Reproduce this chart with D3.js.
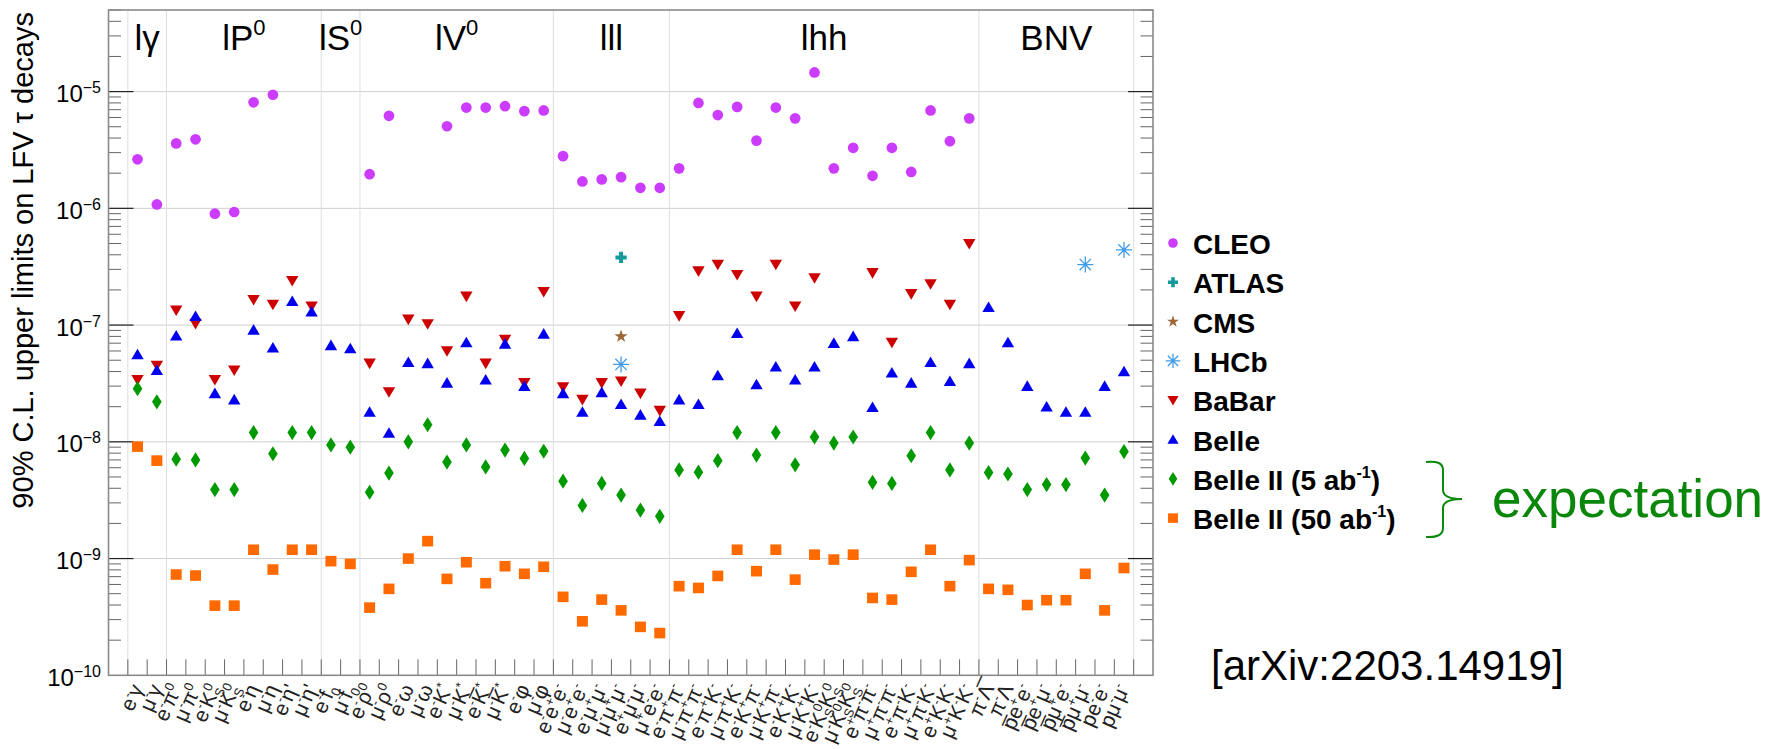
<!DOCTYPE html>
<meta charset="utf-8">
<style>
  body {
    margin: 0;
    background: #fff;
    font-family: "Liberation Sans", Arial, Helvetica, sans-serif;
  }
  #chart {
    width: 1768px;
    height: 749px;
  }
  line.hgrid {
    stroke: #cfcfcf;
    stroke-width: 1;
  }
  line.vgrid {
    stroke: #dedede;
    stroke-width: 1;
  }
  line.tick {
    stroke: #666;
    stroke-width: 1;
  }
  line.major {
    stroke: #222;
    stroke-width: 1.2;
  }
  rect.frame {
    fill: none;
    stroke: #8a8a8a;
    stroke-width: 1.6;
  }
  text.legend {
    font-weight: bold;
    font-size: 28px;
  }
</style>

<body>

  <div id="chart"></div>

  <script src="https://d3js.org/d3.v7.min.js"></script>

  <script>

    // ^x superscript, _x subscript, ~x overline
    var categories = [
      "e^-γ", "μ^-γ",
      "e^-π^0", "μ^-π^0", "e^-K_S^0", "μ^-K_S^0", "e^-η", "μ^-η", "e^-η'", "μ^-η'",
      "e^-f_0", "μ^-f_0",
      "e^-ρ^0", "μ^-ρ^0", "e^-ω", "μ^-ω", "e^-K^*", "μ^-K^*", "e^-~K^*", "μ^-~K^*", "e^-φ", "μ^-φ",
      "e^-e^+e^-", "μ^-e^+e^-", "e^-μ^+μ^-", "μ^-μ^+μ^-", "e^+μ^-μ^-", "μ^+e^-e^-",
      "e^-π^+π^-", "μ^-π^+π^-", "e^-π^+K^-", "μ^-π^+K^-", "e^-K^+π^-", "μ^-K^+π^-", "e^-K^+K^-", "μ^-K^+K^-",
      "e^-K_S^0K_S^0", "μ^-K_S^0K_S^0", "e^+π^-π^-", "μ^+π^-π^-", "e^+π^-K^-", "μ^+π^-K^-", "e^+K^-K^-", "μ^+K^-K^-",
      "π^-~Λ", "π^-Λ", "~pe^+e^-", "~pe^+μ^-", "~pμ^+e^-", "~pμ^+μ^-", "pe^-e^-", "pμ^-μ^-"
    ];

    var groupNames = ["lγ", "lP^0", "lS^0", "lV^0", "lll", "lhh", "BNV"];
    var groupSizes = [2, 8, 2, 10, 6, 16, 8];

    var cleo = [
      2.63e-6, 1.08e-6,
      3.6e-6, 3.9e-6, 9.0e-7, 9.3e-7, 8.1e-6, 9.4e-6, null, null,
      null, null,
      1.96e-6, 6.2e-6, null, null, 5.05e-6, 7.3e-6, 7.3e-6, 7.5e-6, 6.8e-6, 6.9e-6,
      2.8e-6, 1.7e-6, 1.77e-6, 1.85e-6, 1.5e-6, 1.5e-6,
      2.2e-6, 8.0e-6, 6.3e-6, 7.4e-6, 3.8e-6, 7.3e-6, 5.9e-6, 1.46e-5,
      2.2e-6, 3.3e-6, 1.9e-6, 3.3e-6, 2.05e-6, 6.9e-6, 3.76e-6, 5.9e-6,
      null, null, null, null, null, null, null, null
    ];

    var babar = [
      3.4e-8, 4.5e-8,
      1.34e-7, 1.03e-7, 3.4e-8, 4.1e-8, 1.65e-7, 1.5e-7, 2.4e-7, 1.45e-7,
      null, null,
      4.7e-8, 2.67e-8, 1.12e-7, 1.02e-7, 6.0e-8, 1.76e-7, 4.7e-8, 7.5e-8, 3.2e-8, 1.93e-7,
      2.94e-8, 2.3e-8, 3.2e-8, 3.3e-8, 2.6e-8, 1.85e-8,
      1.2e-7, 2.9e-7, 3.3e-7, 2.7e-7, 1.76e-7, 3.3e-7, 1.45e-7, 2.53e-7,
      null, null, 2.8e-7, 7.1e-8, 1.85e-7, 2.25e-7, 1.5e-7, 4.98e-7,
      null, null, null, null, null, null, null, null
    ];

    var belle = [
      5.6e-8, 4.1e-8,
      8.1e-8, 1.19e-7, 2.6e-8, 2.3e-8, 9.1e-8, 6.4e-8, 1.6e-7, 1.3e-7,
      6.7e-8, 6.3e-8,
      1.8e-8, 1.19e-8, 4.8e-8, 4.7e-8, 3.2e-8, 7.1e-8, 3.4e-8, 6.9e-8, 3.0e-8, 8.4e-8,
      2.6e-8, 1.8e-8, 2.65e-8, 2.1e-8, 1.7e-8, 1.5e-8,
      2.3e-8, 2.1e-8, 3.7e-8, 8.5e-8, 3.1e-8, 4.4e-8, 3.4e-8, 4.4e-8,
      7.0e-8, 8.0e-8, 1.98e-8, 3.9e-8, 3.2e-8, 4.8e-8, 3.3e-8, 4.7e-8,
      1.42e-7, 7.1e-8, 3.0e-8, 2.0e-8, 1.8e-8, 1.8e-8, 3.0e-8, 4.0e-8
    ];

    var belle2_5 = [
      2.85e-8, 2.2e-8,
      7.1e-9, 7.0e-9, 3.9e-9, 3.9e-9, 1.2e-8, 7.9e-9, 1.2e-8, 1.2e-8,
      9.4e-9, 9.0e-9,
      3.7e-9, 5.4e-9, 1.0e-8, 1.4e-8, 6.7e-9, 9.4e-9, 6.1e-9, 8.5e-9, 7.2e-9, 8.3e-9,
      4.6e-9, 2.85e-9, 4.4e-9, 3.5e-9, 2.6e-9, 2.3e-9,
      5.75e-9, 5.5e-9, 6.9e-9, 1.2e-8, 7.7e-9, 1.2e-8, 6.35e-9, 1.1e-8,
      9.75e-9, 1.1e-8, 4.5e-9, 4.4e-9, 7.6e-9, 1.2e-8, 5.75e-9, 9.75e-9,
      5.45e-9, 5.3e-9, 3.9e-9, 4.3e-9, 4.3e-9, 7.25e-9, 3.5e-9, 8.25e-9
    ];

    var belle2_50 = [
      9.1e-9, 6.9e-9,
      7.3e-10, 7.15e-10, 3.95e-10, 3.95e-10, 1.19e-9, 8.05e-10, 1.19e-9, 1.19e-9,
      9.5e-10, 9.0e-10,
      3.8e-10, 5.5e-10, 1.0e-9, 1.41e-9, 6.7e-10, 9.3e-10, 6.15e-10, 8.6e-10, 7.4e-10, 8.5e-10,
      4.7e-10, 2.9e-10, 4.45e-10, 3.6e-10, 2.6e-10, 2.3e-10,
      5.8e-10, 5.6e-10, 7.1e-10, 1.19e-9, 7.8e-10, 1.19e-9, 6.6e-10, 1.08e-9,
      9.8e-10, 1.08e-9, 4.6e-10, 4.45e-10, 7.7e-10, 1.19e-9, 5.8e-10, 9.7e-10,
      5.5e-10, 5.4e-10, 4.0e-10, 4.4e-10, 4.4e-10, 7.4e-10, 3.6e-10, 8.3e-10
    ];

    // sparse experiments: [category, value]
    var atlas = [["μ^-μ^+μ^-", 3.8e-7]];
    var cms = [["μ^-μ^+μ^-", 8.0e-8]];
    var lhcb = [["μ^-μ^+μ^-", 4.6e-8], ["~pμ^+μ^-", 3.3e-7], ["pμ^-μ^-", 4.4e-7]];

    var decades = [-10, -9, -8, -7, -6, -5];

    var legendNames = ["CLEO", "ATLAS", "CMS", "LHCb", "BaBar", "Belle", "Belle II (5 ab^-^1)", "Belle II (50 ab^-^1)"];

    var width = 1768,
        height = 749,
        plotL = 108.5,
        plotR = 1153,
        plotT = 10,
        plotB = 675.3,
        nBins = categories.length + 2;

    var x = d3.scaleLinear().domain([0, nBins]).range([plotL, plotR]),
        y = d3.scaleLog().domain([1e-10, 5e-5]).range([plotB, plotT]);

    var markers = {
      circle: d3.symbol(d3.symbolCircle, 90)(),
      tdown: "M-6.2,-4.8L6.2,-4.8L0,5.8Z",
      tup: "M-6.2,4.8L6.2,4.8L0,-5.8Z",
      diamond: "M0,-7.6L4.8,0L0,7.6L-4.8,0Z",
      square: "M-5.5,-5.3h11v10.6h-11Z",
      cross: "M-2,-5.6h4v3.6h3.6v4h-3.6v3.6h-4v-3.6h-3.6v-4h3.6Z",
      star: d3.symbol(d3.symbolStar, 55)(),
      aster: "M0,-8V8M-8,0H8M-5.7,-5.7L5.7,5.7M-5.7,5.7L5.7,-5.7"
    };

    function idx(name) {
      return categories.indexOf(name);
    }

    var series = [
      {name: "CLEO", color: "#cc3cff", shape: "circle", pts: cleo.map(function(v, i) { return [i, v]; })},
      {name: "ATLAS", color: "#12999a", shape: "cross", pts: atlas.map(function(d) { return [idx(d[0]), d[1]]; })},
      {name: "CMS", color: "#9c6636", shape: "star", pts: cms.map(function(d) { return [idx(d[0]), d[1]]; })},
      {name: "LHCb", color: "#3f9be8", shape: "aster", stroke: true, pts: lhcb.map(function(d) { return [idx(d[0]), d[1]]; })},
      {name: "BaBar", color: "#cc0000", shape: "tdown", pts: babar.map(function(v, i) { return [i, v]; })},
      {name: "Belle", color: "#0000ee", shape: "tup", pts: belle.map(function(v, i) { return [i, v]; })},
      {name: "Belle II 5", color: "#009a00", shape: "diamond", pts: belle2_5.map(function(v, i) { return [i, v]; })},
      {name: "Belle II 50", color: "#ff6a00", shape: "square", pts: belle2_50.map(function(v, i) { return [i, v]; })}
    ];

    // writes a string with ^ _ ~ markup into tspans
    function rich(t, str, small, supDy, subDy) {
      var shift = 0, prev = "n";
      for (var i = 0; i < str.length; i++) {
        var c = str[i], kind = "n";
        if ((c === "^" || c === "_") && i + 1 < str.length) {
          kind = c === "^" ? "sup" : "sub";
          c = str[++i];
        } else if (c === "~") {
          c = str[++i] + "\u0305";
        }
        var target = kind === "sup" ? supDy : kind === "sub" ? subDy : 0;
        var ts = t.append("tspan").text(c);
        if (target - shift !== 0) ts.attr("dy", target - shift);
        if (kind !== "n") ts.attr("font-size", small);
        if (kind === "sup" && prev === "sub") ts.attr("dx", -small * 0.58);
        shift = target;
        prev = kind;
      }
    }

    var svg = d3.select("#chart").append("svg")
                .attr("width", width)
                .attr("height", height);

    // horizontal grid at decades
    svg.selectAll("line.hgrid")
        .data(decades.slice(1))
      .enter().append("line")
        .attr("class", "hgrid")
        .attr("x1", plotL).attr("x2", plotR)
        .attr("y1", function(d) { return y(Math.pow(10, d)); })
        .attr("y2", function(d) { return y(Math.pow(10, d)); });

    // vertical grid at group edges
    var edges = [1];
    groupSizes.forEach(function(s) { edges.push(edges[edges.length - 1] + s); });

    svg.selectAll("line.vgrid")
        .data(edges)
      .enter().append("line")
        .attr("class", "vgrid")
        .attr("x1", function(d) { return x(d); })
        .attr("x2", function(d) { return x(d); })
        .attr("y1", plotT).attr("y2", plotB);

    // x ticks at every bin edge
    svg.selectAll("line.xtick")
        .data(d3.range(1, nBins))
      .enter().append("line")
        .attr("class", "tick")
        .attr("x1", function(d) { return x(d); })
        .attr("x2", function(d) { return x(d); })
        .attr("y1", plotB).attr("y2", plotB - 16);

    // y ticks, both sides
    var minors = [];
    decades.forEach(function(e) {
      for (var m = 2; m <= 9; m++) {
        var v = m * Math.pow(10, e);
        if (v <= 5e-5) minors.push(v);
      }
    });

    [[plotL, 1], [plotR, -1]].forEach(function(side) {
      svg.selectAll(null)
          .data(minors)
        .enter().append("line")
          .attr("class", "tick")
          .attr("x1", side[0]).attr("x2", side[0] + side[1] * 12.5)
          .attr("y1", function(d) { return y(d); })
          .attr("y2", function(d) { return y(d); });
      svg.selectAll(null)
          .data(decades.slice(1))
        .enter().append("line")
          .attr("class", "major")
          .attr("x1", side[0]).attr("x2", side[0] + side[1] * 25)
          .attr("y1", function(d) { return y(Math.pow(10, d)); })
          .attr("y2", function(d) { return y(Math.pow(10, d)); });
    });

    svg.append("rect")
        .attr("class", "frame")
        .attr("x", plotL).attr("y", plotT)
        .attr("width", plotR - plotL).attr("height", plotB - plotT);

    // y tick labels
    svg.selectAll("text.ylab")
        .data(decades)
      .enter().append("text")
        .attr("class", "ylab")
        .attr("x", 101)
        .attr("y", function(d) { return y(Math.pow(10, d)) + 10.5; })
        .attr("text-anchor", "end")
        .attr("font-size", 24)
        .each(function(d) {
          var t = d3.select(this);
          t.append("tspan").text("10");
          t.append("tspan").attr("dy", -9).attr("font-size", 16).text("\u2212" + (-d));
        });

    // y title
    svg.append("text")
        .attr("transform", "translate(33,12) rotate(-90)")
        .attr("text-anchor", "end")
        .attr("font-size", 29)
        .text("90% C.L. upper limits on LFV τ decays");

    // group labels
    var start = 1;
    groupNames.forEach(function(g, i) {
      var cx = x(start + groupSizes[i] / 2);
      var t = svg.append("text")
          .attr("x", cx).attr("y", 50)
          .attr("text-anchor", "middle")
          .attr("font-size", 35);
      rich(t, g, 22, -15, 0);
      start += groupSizes[i];
    });

    // x labels
    categories.forEach(function(c, i) {
      var t = svg.append("text")
          .attr("transform", "translate(" + (x(i + 1.5) + 6) + "," + (plotB + 13) + ") rotate(-66)")
          .attr("text-anchor", "end")
          .attr("font-size", 21)
          .style("fill", "#222");
      rich(t, c, 13, -8, 5);
    });

    // points
    series.forEach(function(s) {
      svg.append("g").selectAll("path")
          .data(s.pts.filter(function(p) { return p[1] != null; }))
        .enter().append("path")
          .attr("d", markers[s.shape])
          .attr("transform", function(p) { return "translate(" + x(p[0] + 1.5) + "," + y(p[1]) + ")"; })
          .style("fill", s.stroke ? "none" : s.color)
          .style("stroke", s.stroke ? s.color : "none")
          .style("stroke-width", 1.3);
    });

    // legend
    var leg = svg.append("g");
    series.forEach(function(s, i) {
      var cy = 243 + i * 39.3;
      leg.append("path")
          .attr("d", markers[s.shape])
          .attr("transform", "translate(1173," + cy + ") scale(0.9)")
          .style("fill", s.stroke ? "none" : s.color)
          .style("stroke", s.stroke ? s.color : "none")
          .style("stroke-width", 1.4);
      var t = leg.append("text")
          .attr("class", "legend")
          .attr("x", 1193).attr("y", cy + 11);
      rich(t, legendNames[i], 16, -12, 0);
    });

    // brace + note
    svg.append("path")
        .attr("d", "M1426,462 Q1443,460 1443,470 L1443,490 Q1443,499 1462,499 Q1443,499 1443,508 L1443,528 Q1443,538 1426,537")
        .style("fill", "none")
        .style("stroke", "#0a8a0a")
        .style("stroke-width", 2);

    svg.append("text")
        .attr("x", 1492).attr("y", 517)
        .attr("font-size", 53)
        .style("fill", "#0a870a")
        .text("expectation");

    svg.append("text")
        .attr("x", 1211).attr("y", 680)
        .attr("font-size", 42)
        .text("[arXiv:2203.14919]");

  </script>

</body>
